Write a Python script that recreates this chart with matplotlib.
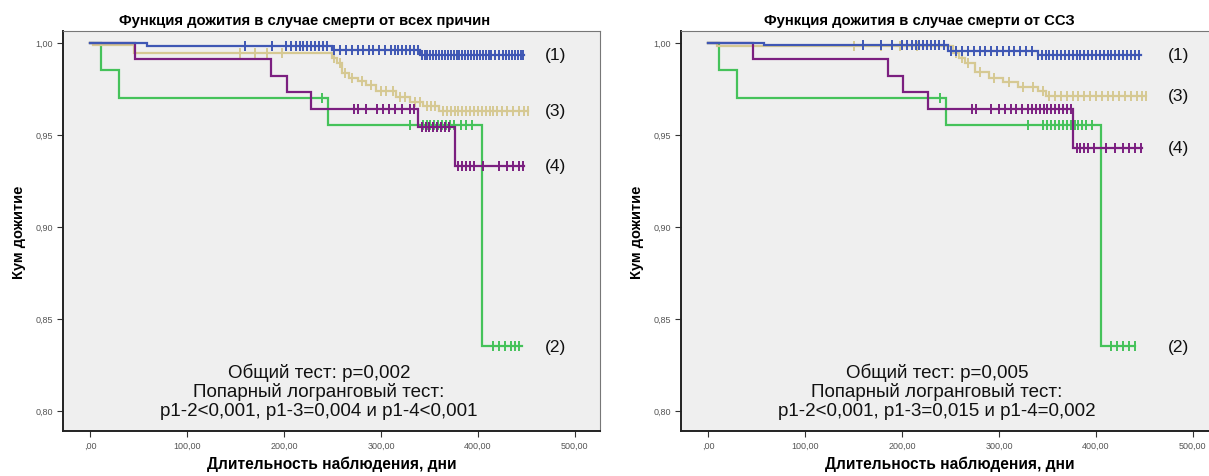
import numpy as np
import matplotlib
matplotlib.use("Agg")
import matplotlib.pyplot as plt

plt.rcParams["font.family"] = ["Liberation Sans", "DejaVu Sans"]

# ===== Data =====
# Left panel: all-cause death
BLUE_T = [0, 59, 249, 340, 448]
BLUE_S = [1.0, 0.998, 0.996, 0.9935, 0.9935]
TAN_T = [0, 3, 45, 250, 255, 260, 267, 276, 285, 295, 316, 330, 343, 360, 452]
TAN_S = [1.0, 0.9987, 0.9942, 0.9915, 0.9888, 0.9834, 0.9807, 0.979, 0.9772,
         0.9735, 0.9707, 0.968, 0.9655, 0.963, 0.963]
PURPLE_T = [0, 46, 187, 203, 228, 338, 376, 448]
PURPLE_S = [1.0, 0.991, 0.982, 0.973, 0.964, 0.954, 0.933, 0.933]
GREEN_T = [0, 11, 30, 245, 404, 445]
GREEN_S = [1.0, 0.985, 0.970, 0.955, 0.835, 0.835]

BLUE_CENS = [160, 188, 202, 207, 212, 216, 220, 224, 228, 232, 236, 240, 244,
             252, 258, 264, 270, 276, 282, 288, 292, 298, 304, 310, 314, 318,
             322, 326, 330, 334, 338, 342, 345, 348, 351, 354, 357, 360, 363,
             366, 369, 372, 375, 378, 381, 384, 387, 390, 393, 396, 399, 402,
             405, 408, 411, 414, 418, 422, 426, 429, 432, 435, 438, 441, 444, 447]
TAN_CENS = [155, 170, 182, 198, 252, 258, 263, 270, 280, 290, 300, 305, 312,
            320, 325, 335, 340, 348, 352, 356, 364, 368, 372, 376, 380, 384,
            388, 392, 396, 400, 404, 408, 412, 416, 420, 425, 430, 436, 442,
            448, 452]
PURPLE_CENS = [272, 276, 285, 296, 302, 308, 314, 322, 330, 334, 342, 346,
               350, 354, 358, 362, 366, 370, 380, 384, 388, 392, 396, 405,
               422, 430, 436, 442, 447]
GREEN_CENS = [239, 330, 343, 347, 351, 355, 359, 363, 367, 371, 375, 383,
              388, 394, 416, 422, 428, 434, 438, 442]

# Right panel: cardiovascular death
BLUE2_T = [0, 58, 247, 340, 446]
BLUE2_S = [1.0, 0.9985, 0.9957, 0.9935, 0.9935]
TAN2_T = [0, 9, 253, 259, 265, 275, 290, 304, 320, 340, 348, 452]
TAN2_S = [1.0, 0.998, 0.9945, 0.9916, 0.989, 0.984, 0.981, 0.9786, 0.976,
          0.9736, 0.971, 0.971]
PURPLE2_T = [0, 46, 186, 201, 227, 376, 448]
PURPLE2_S = [1.0, 0.991, 0.982, 0.973, 0.964, 0.943, 0.943]
GREEN2_T = [0, 11, 30, 245, 405, 440]
GREEN2_S = [1.0, 0.985, 0.970, 0.955, 0.835, 0.835]

BLUE2_CENS = [160, 178, 190, 200, 205, 210, 214, 218, 222, 226, 230, 234,
              238, 243, 250, 256, 262, 268, 274, 280, 286, 292, 298, 304,
              310, 316, 322, 328, 334, 340, 344, 348, 352, 356, 360, 364,
              368, 372, 376, 380, 384, 388, 392, 396, 400, 404, 408, 412,
              416, 420, 424, 428, 432, 436, 440, 444]
TAN2_CENS = [150, 178, 198, 215, 256, 262, 268, 280, 295, 310, 325, 335, 345,
             352, 358, 364, 370, 376, 382, 388, 394, 400, 406, 412, 418, 424,
             430, 436, 442, 448, 452]
PURPLE2_CENS = [272, 276, 292, 300, 306, 312, 318, 324, 330, 334, 338, 342,
                346, 350, 354, 358, 362, 366, 370, 374, 380, 384, 388, 392,
                398, 410, 420, 428, 434, 440, 446]
GREEN2_CENS = [239, 330, 345, 350, 354, 358, 362, 366, 370, 374, 378, 382,
               386, 390, 396, 416, 422, 428, 434, 440]

GROUP_LABELS = ["(1)", "(2)", "(3)", "(4)"]
X_TICKS = [0, 100, 200, 300, 400, 500]
X_TICK_LABELS = [",00", "100,00", "200,00", "300,00", "400,00", "500,00"]
Y_TICKS = [0.80, 0.85, 0.90, 0.95, 1.00]
Y_TICK_LABELS = ["0,80", "0,85", "0,90", "0,95", "1,00"]

TITLES = ["Функция дожития в случае смерти от всех причин",
          "Функция дожития в случае смерти от ССЗ"]
TEST_TEXT = [
    ["Общий тест: p=0,002", "Попарный логранговый тест:",
     "p1-2<0,001, p1-3=0,004 и p1-4<0,001"],
    ["Общий тест: p=0,005", "Попарный логранговый тест:",
     "p1-2<0,001, p1-3=0,015 и p1-4=0,002"],
]
TEXT_LEVELS = [0.821, 0.8105, 0.800]

BLUE = "#3f57b4"
GREEN = "#45c25a"
TAN = "#d6c993"
PURPLE = "#7b1f80"


def surv_at(times, surv, t):
    idx = np.searchsorted(np.asarray(times), t, side="right") - 1
    return np.asarray(surv)[idx]


def draw_curve(ax, times, surv, cens, color):
    ax.step(times, surv, where="post", color=color, lw=1.6, solid_joinstyle="miter")
    cens = np.asarray(cens)
    ax.plot(cens, surv_at(times, surv, cens), ls="none", marker="|",
            color=color, ms=6.5, mew=1.4)


def setup_axes(ax, title, text_lines, label_x, label_levels, title_x):
    ax.set_facecolor("#efefef")
    ax.set_xlim(-28, 526)
    ax.set_ylim(0.789, 1.0064)
    ax.set_xticks(X_TICKS)
    ax.set_xticklabels(X_TICK_LABELS)
    ax.set_yticks(Y_TICKS)
    ax.set_yticklabels(Y_TICK_LABELS)
    ax.tick_params(direction="out", length=4, width=0.8, labelsize=6.5,
                   labelcolor="#555555", color="#333333", pad=3)
    for sp in ax.spines.values():
        sp.set_color("#777777")
        sp.set_linewidth(0.8)
    ax.spines["bottom"].set_color("#222222")
    ax.spines["bottom"].set_linewidth(1.4)
    ax.spines["left"].set_color("#222222")
    ax.spines["left"].set_linewidth(1.4)
    ax.set_title(title, fontsize=10.7, fontweight="bold", pad=5, x=title_x)
    ax.set_xlabel("Длительность наблюдения, дни", fontsize=11.2,
                  fontweight="bold", labelpad=4)
    ax.set_ylabel("Кум дожитие", fontsize=10.5, fontweight="bold", labelpad=7)
    for line, lev in zip(text_lines, TEXT_LEVELS):
        ax.text(236, lev, line, ha="center", va="center",
                fontsize=13.5, color="#111111")
    for lab, lev in zip(GROUP_LABELS, label_levels):
        ax.text(label_x, lev, lab, ha="center", va="center", fontsize=12.5,
                color="#111111")


def main() -> None:
    fig = plt.figure(figsize=(12.09, 4.77), dpi=100)
    ax1 = fig.add_axes([0.0521, 0.0943, 0.4442, 0.839])
    ax2 = fig.add_axes([0.5633, 0.0943, 0.4442, 0.839])

    draw_curve(ax1, GREEN_T, GREEN_S, GREEN_CENS, GREEN)
    draw_curve(ax1, TAN_T, TAN_S, TAN_CENS, TAN)
    draw_curve(ax1, PURPLE_T, PURPLE_S, PURPLE_CENS, PURPLE)
    draw_curve(ax1, BLUE_T, BLUE_S, BLUE_CENS, BLUE)
    setup_axes(ax1, TITLES[0], TEST_TEXT[0], 480,
               [BLUE_S[-1], GREEN_S[-1], TAN_S[-1], PURPLE_S[-1]], 0.449)

    draw_curve(ax2, GREEN2_T, GREEN2_S, GREEN2_CENS, GREEN)
    draw_curve(ax2, TAN2_T, TAN2_S, TAN2_CENS, TAN)
    draw_curve(ax2, PURPLE2_T, PURPLE2_S, PURPLE2_CENS, PURPLE)
    draw_curve(ax2, BLUE2_T, BLUE2_S, BLUE2_CENS, BLUE)
    setup_axes(ax2, TITLES[1], TEST_TEXT[1], 485,
               [BLUE2_S[-1], GREEN2_S[-1], TAN2_S[-1], PURPLE2_S[-1]], 0.443)

    fig.savefig("out.png", dpi=100)


if __name__ == "__main__":
    main()
